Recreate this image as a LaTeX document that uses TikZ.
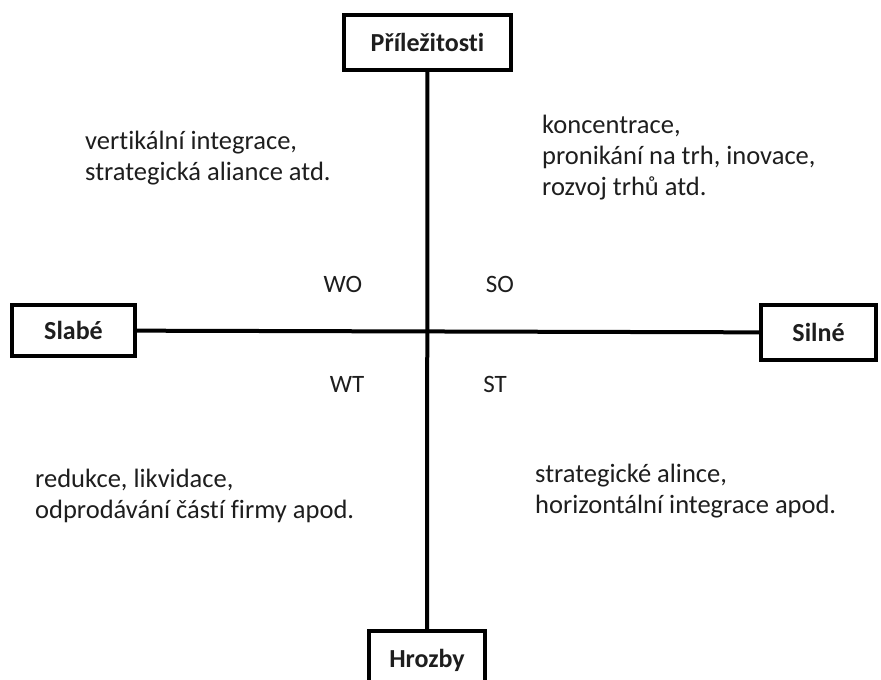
\documentclass[tikz,border=0pt]{standalone}
\usepackage{fontspec}
\setmainfont{Carlito}[Ligatures=NoCommon]
\usepackage{xcolor}
\usetikzlibrary{positioning}
\definecolor{cInk}{HTML}{1e1e1e}
\tikzset{
  axisbox/.style={draw=black,line width=4pt,fill=white,inner sep=0pt,
                  font=\fontsize{26}{30}\selectfont\bfseries,text=cInk},
  axisline/.style={line width=4pt,black},
  quad/.style={font=\fontsize{25}{30}\selectfont,text=cInk,inner sep=0pt},
  note/.style={font=\fontsize{26.5}{31}\selectfont,text=cInk,align=left,
               anchor=west,inner sep=0pt},
}
\begin{document}
\begin{tikzpicture}[x=1pt,y=-1pt]
  \useasboundingbox[fill=white] (0,0) rectangle (881,680);
  % four ends of the cross
  \node[axisbox,minimum width=167pt,minimum height=55pt] (opp) at (427.5,42.5) {Příležitosti};
  \node[axisbox,minimum width=116pt,minimum height=58pt] (thr) at (427,660) {Hrozby};
  \node[axisbox,minimum width=123pt,minimum height=51pt] (weak) at (73.5,330.5) {Slabé};
  \node[axisbox,minimum width=115pt,minimum height=55pt] (strong) at (818.5,332.5) {Silné};
  \draw[axisline] (opp) -- (thr);
  \draw[axisline] (weak) -- (strong);
  % quadrant names
  \foreach \n/\x/\y in {WO/343/284,SO/500/284,WT/347/384,ST/495/384}{
     \node[quad] (q\n) at (\x,\y) {\n};
  }
  % strategies
  \node[note] (nWO) at (85,158) {vertikální integrace,\\strategická aliance atd.};
  \node[note] (nSO) at (542,158) {koncentrace,\\pronikání na trh, inovace,\\rozvoj trhů atd.};
  \node[note] (nWT) at (35,496) {redukce, likvidace,\\odprodávání částí firmy apod.};
  \node[note] (nST) at (535,491) {strategické alince,\\horizontální integrace apod.};
\end{tikzpicture}
\end{document}
